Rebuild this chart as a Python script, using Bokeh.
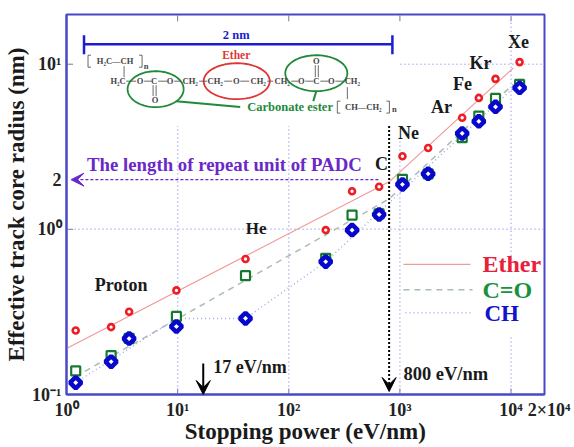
import numpy as np
from bokeh.plotting import figure
from bokeh.embed import file_html
from bokeh.resources import INLINE
from bokeh.core.properties import value
from bokeh.models import FixedTicker, Arrow, VeeHead

stopping = [1.21, 2.52, 3.66, 9.75, 40.8, 215, 371, 650, 1054, 1795, 3633, 5129, 7250, 11940]
ether = [0.244, 0.256, 0.317, 0.427, 0.661, 0.99, 1.70, 1.81, 2.77, 3.11, 4.74, 6.25, 8.15, 10.3]
carbonyl = [0.139, 0.172, 0.219, 0.297, 0.524, 0.668, 1.22, 1.24, 2.01, 2.17, 3.59, 4.85, 6.21, 7.54]
ch = [0.118, 0.158, 0.218, 0.258, 0.289, 0.637, 0.99, 1.23, 1.87, 2.17, 3.81, 4.51, 5.52, 7.19]

ether_fit_x = [1, 800, 10500]
ether_fit_y = [0.19, 1.94, 9.5]
carbonyl_fit_x = [1.2, 800, 10500]
carbonyl_fit_y = [0.128, 1.53, 7.57]
ch_fit_x = [1.21, 9.75, 40.8, 215, 800, 10500]
ch_fit_y = [0.118, 0.289, 0.289, 0.637, 1.45, 7.19]

x_ticks = [1, 10, 100, 1000, 10000, 20000]
x_labels = ["10⁰", "10¹", "10²", "10³", "10⁴", "\u00a0\u00a02×10⁴"]
y_ticks = [0.1, 1, 2, 10]
y_labels = ["10⁻¹", "10⁰", "2", "10¹"]

X0, PX_X = 66.5, 111.0
Y0, PX_Y = 228.5, 165.5
def fx(px):
    return 10 ** ((np.asarray(px, dtype=float) - X0) / PX_X)
def fy(py):
    return 10 ** ((Y0 - np.asarray(py, dtype=float)) / PX_Y)

FRAME = "#4848c8"
GRID = "#a0a0ee"
SERIF = value("Liberation Serif")

p = figure(width=572, height=447, x_axis_type="log", y_axis_type="log",
           x_range=(1, 20000), y_range=(0.1, 20),
           output_backend="svg", toolbar_location=None,
           min_border_left=66, min_border_right=28, min_border_top=14, min_border_bottom=53)
p.grid.visible = False
p.outline_line_color = FRAME
p.outline_line_width = 2
p.border_fill_color = "white"

for ax, ticks, labels in ((p.xaxis[0], x_ticks, x_labels), (p.yaxis[0], y_ticks, y_labels)):
    ax.ticker = FixedTicker(ticks=ticks)
    ax.major_label_overrides = dict(zip(ticks, labels))
    ax.major_label_text_font = "Liberation Serif"
    ax.major_label_text_font_style = "bold"
    ax.major_label_text_font_size = "18px"
    ax.major_label_text_color = "#222222"
    ax.major_tick_in = 0
    ax.major_tick_out = 0
    ax.minor_tick_in = 0
    ax.minor_tick_out = 0
    ax.axis_line_color = FRAME
    ax.axis_line_width = 2
    ax.axis_label_text_font = "Liberation Serif"
    ax.axis_label_text_font_style = "bold"
    ax.axis_label_text_font_size = "23px"
    ax.axis_label_text_color = "#1a1a1a"
p.xaxis[0].axis_label = "Stopping power (eV/nm)"
p.yaxis[0].axis_label = "Effective track core radius (nm)"
p.xaxis[0].major_label_standoff = 5
p.xaxis[0].axis_label_standoff = -4
p.yaxis[0].major_label_standoff = 5
p.yaxis[0].axis_label_standoff = 0

# small inward ticks on all sides
p.segment(x0=[10, 100, 1000, 10000], x1=[10, 100, 1000, 10000], y0=fy(394), y1=fy(388), line_color="#777799", line_width=1)
p.segment(x0=[10, 100, 1000, 10000], x1=[10, 100, 1000, 10000], y0=fy(14), y1=fy(20), line_color="#777799", line_width=1)
p.segment(x0=fx(66.5), x1=fx(73), y0=[1, 10], y1=[1, 10], line_color="#777799", line_width=1)

# dotted guides
p.segment(x0=[10, 100, 1000, 10000, 10000], x1=[10, 100, 1000, 10000, 10000],
          y0=[0.1, 0.1, 0.1, 0.1, fy(255)], y1=[fy(125), fy(125), fy(137), fy(335), 20],
          line_color=GRID, line_width=1.5, line_dash="1 3")
p.segment(x0=[1, fx(400)], x1=[20000, 20000], y0=[1, 10], y1=[1, 10],
          line_color=GRID, line_width=1.5, line_dash="1 3")

# fits
p.line(ether_fit_x, ether_fit_y, line_color="#f09a9a", line_width=1.2)
p.line(carbonyl_fit_x, carbonyl_fit_y, line_color="#a9bdb4", line_width=1.5, line_dash="6 5")
p.line(ch_fit_x, ch_fit_y, line_color="#a8a8ee", line_width=1.5, line_dash="1 3")

# points
p.scatter(stopping, carbonyl, marker="square", size=9, fill_color="white", line_color="#157a2e", line_width=2.2)
p.scatter(stopping, ch, marker="square", angle=np.pi / 4, size=8, fill_color="white", line_color="#0808cc", line_width=4.5)
p.scatter(stopping, ether, marker="circle", size=6, fill_color="white", line_color="#ee1c25", line_width=2.6)

def label(px, py, txt, color="#1a1a1a", size=15, align="center", style="bold"):
    p.text(x=[float(fx(px))], y=[float(fy(py))], text=[txt], text_color=color,
           text_font=SERIF, text_font_size=f"{size}px", text_font_style=style,
           text_align=align, text_baseline="middle")

for px, py, txt, s in [(121, 284, "Proton", 18), (256, 228, "He", 17), (381, 163, "C", 18),
                       (408, 132, "Ne", 18), (441, 106, "Ar", 18), (462, 83, "Fe", 18),
                       (480, 62, "Kr", 18), (518, 41, "Xe", 18)]:
    label(px, py, txt, size=s)

# legend
p.line(fx([403, 470]), fy([263.5, 263.5]), line_color="#f09a9a", line_width=1.2)
p.line(fx([403, 472]), fy([289, 289]), line_color="#a9bdb4", line_width=1.5, line_dash="6 5")
p.line(fx([405, 473]), fy([312, 312]), line_color="#a8a8ee", line_width=1.5, line_dash="1 3")
label(482, 263, "Ether", "#e8203a", 24, "left")
label(482, 289, "C=O", "#17913a", 24, "left")
label(484, 313, "CH", "#1212cc", 23, "left")

# length of repeat unit
label(87, 164, "The length of repeat unit of PADC", "#6a28c8", 18.8, "left")
p.add_layout(Arrow(end=VeeHead(size=13, fill_color="#6a28c8", line_color="#6a28c8"),
                   x_start=float(fx(378)), y_start=2, x_end=float(fx(71)), y_end=2,
                   line_color="#6a28c8", line_width=1.2, line_dash="3 2"))

# black arrows
p.add_layout(Arrow(end=VeeHead(size=14, fill_color="black", line_color="black"),
                   x_start=17, y_start=float(fy(363)), x_end=17, y_end=0.1,
                   line_color="black", line_width=2))
p.add_layout(Arrow(end=VeeHead(size=14, fill_color="black", line_color="black"),
                   x_start=800, y_start=float(fy(125)), x_end=800, y_end=float(fy(391)),
                   line_color="black", line_width=2, line_dash="2 2"))
label(213, 366, "17 eV/nm", size=18, align="left")
label(403, 373, "800 eV/nm", size=18.5, align="left")

# 2 nm bar
p.line(fx([84, 392]), fy([43, 43]), line_color="#1c1cd0", line_width=2.5)
p.segment(x0=fx([84, 392]), x1=fx([84, 392]), y0=fy([34, 34]), y1=fy([53, 53]), line_color="#1c1cd0", line_width=2.5)
label(236, 34, "2 nm", "#1c1cd0", 12.5)

# structure
t = np.linspace(0, 2 * np.pi, 80)
def ellipse(cx, cy, rx, ry, color):
    p.line(fx(cx + rx * np.cos(t)), fy(cy + ry * np.sin(t)), line_color=color, line_width=1.8)
ellipse(155.5, 88, 28, 18, "#1f8a3a")
ellipse(236.5, 80, 33, 18, "#e03535")
ellipse(316, 72, 31, 18, "#1f8a3a")
p.line(fx([176, 240]), fy([100, 106]), line_color="#1f8a3a", line_width=2)
p.line(fx([316, 313]), fy([90, 100]), line_color="#1f8a3a", line_width=2)
label(236, 54, "Ether", "#e03535", 11.5)
label(247, 106, "Carbonate ester", "#1f8a3a", 12.5, "left")

INK = "#444444"
chain = [(118, 80, "H₂C"), (140, 80, "O"), (154, 80, "C"), (170, 80, "O"), (190, 80, "CH₂"),
         (215, 80, "CH₂"), (236, 80, "O"), (258, 80, "CH₂"), (282, 80, "CH₂"), (301, 80, "O"),
         (316, 80, "C"), (331, 80, "O"), (352, 80, "CH₂"), (155, 99, "O"), (316, 60, "O"),
         (115, 60, "H₂C—CH"), (363, 106, "CH—CH₂"), (146, 65, "n"), (394, 108, "n")]
for px, py, txt in chain:
    label(px, py, txt, INK, 8.5)
bx0 = [126, 144, 158, 174, 199, 224, 240, 267, 291, 305, 320, 335]
bx1 = [136, 151, 167, 181, 207, 232, 249, 273, 298, 313, 328, 343]
p.segment(x0=fx(bx0), x1=fx(bx1), y0=fy([80] * 12), y1=fy([80] * 12), line_color=INK, line_width=0.8)
p.segment(x0=fx([153, 156, 315, 318, 124, 347]), x1=fx([153, 156, 315, 318, 124, 347]),
          y0=fy([84, 84, 64, 64, 65, 86]), y1=fy([95, 95, 76, 76, 76, 98]), line_color=INK, line_width=0.8)
for xs, ys in [([91, 88, 88, 91], [54, 54, 66, 66]), ([139, 142, 142, 139], [54, 54, 66, 66]),
               ([340, 337, 337, 340], [100, 100, 112, 112]), ([386, 389, 389, 386], [100, 100, 112, 112])]:
    p.line(fx(xs), fy(ys), line_color=INK, line_width=0.8)

open("out.html", "w").write(file_html(p, INLINE))
